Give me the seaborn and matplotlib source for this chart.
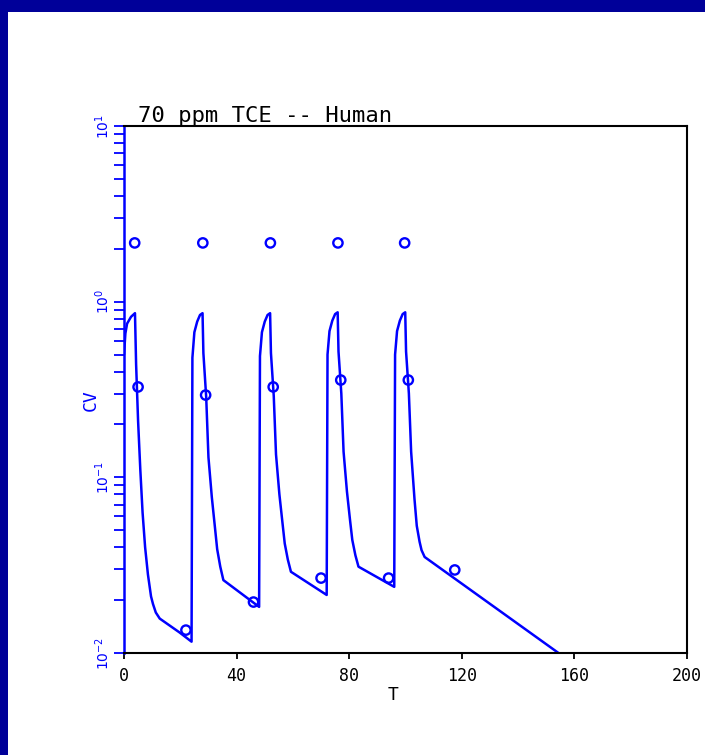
import matplotlib
matplotlib.use("Agg")
import matplotlib.pyplot as plt
import matplotlib.ticker as mticker
from matplotlib.patches import Rectangle
import seaborn as sns
import pandas as pd

# ---- data ----
model_t = [0.0, 0.5, 1.1, 2.5, 3.9, 4.3, 5.0, 5.8, 6.6, 7.5, 8.5, 9.6, 10.3, 11.3, 12.7, 19.7, 24.0,
           24.3, 25.0, 26.0, 27.0, 27.9, 28.2, 29.2, 30.0, 31.2, 32.3, 33.1, 34.2, 35.3, 48.0,
           48.3, 49.0, 50.0, 51.0, 51.9, 52.2, 53.2, 54.0, 55.2, 56.3, 57.1, 58.2, 59.3, 72.0,
           72.3, 73.0, 74.0, 75.0, 75.9, 76.2, 77.2, 78.0, 79.2, 80.3, 81.1, 82.2, 83.3, 96.0,
           96.3, 97.0, 98.0, 99.0, 99.9, 100.2, 101.2, 102.0, 103.2, 104.0, 105.0, 105.7, 106.8, 155.5]
model_cv = [0.50, 0.66, 0.75, 0.82, 0.86, 0.44, 0.21, 0.11, 0.063, 0.040, 0.028, 0.021, 0.019, 0.017, 0.0157, 0.0131, 0.0116,
            0.48, 0.67, 0.77, 0.84, 0.86, 0.51, 0.286, 0.13, 0.077, 0.052, 0.039, 0.031, 0.026, 0.0183,
            0.49, 0.67, 0.77, 0.84, 0.86, 0.51, 0.29, 0.135, 0.080, 0.055, 0.042, 0.034, 0.029, 0.0214,
            0.50, 0.68, 0.78, 0.85, 0.87, 0.52, 0.30, 0.14, 0.083, 0.057, 0.044, 0.036, 0.031, 0.0238,
            0.50, 0.68, 0.78, 0.85, 0.87, 0.52, 0.30, 0.14, 0.075, 0.053, 0.043, 0.0385, 0.0352, 0.0097]

obs_t = [3.8, 28.0, 52.0, 76.0, 99.7,
         5.0, 29.0, 53.0, 77.0, 101.0,
         22.0, 46.0, 70.0, 94.0, 117.5]
obs_cv = [2.16, 2.16, 2.16, 2.16, 2.16,
          0.327, 0.294, 0.327, 0.358, 0.358,
          0.0135, 0.0195, 0.0267, 0.0267, 0.0297]

x_ticks = [0, 40, 80, 120, 160, 200]
x_ticklabels = ["0", "40", "80", "120", "160", "200"]
y_ticks = [0.01, 0.1, 1, 10]
y_ticklabels = [r"$10^{-2}$", r"$10^{-1}$", r"$10^{0}$", r"$10^{1}$"]
title = "70 ppm TCE -- Human"

# ---- plot ----
sns.set_style("white")
plt.rcParams["font.family"] = ["DejaVu Sans Mono", "DejaVu Sans"]
plt.rcParams["mathtext.fontset"] = "dejavusans"

fig = plt.figure(figsize=(7.05, 7.55), dpi=100)
fig.patch.set_facecolor("white")
ax = fig.add_axes([124 / 705, 102 / 755, 563 / 705, 527 / 755])

model_df = pd.DataFrame({"T": model_t, "CV": model_cv})
obs_df = pd.DataFrame({"T": obs_t, "CV": obs_cv})

sns.lineplot(data=model_df, x="T", y="CV", ax=ax, color="#0000ff", lw=1.8,
             estimator=None, sort=False)
sns.scatterplot(data=obs_df, x="T", y="CV", ax=ax, marker="o", s=45,
                facecolor="none", edgecolor="#0000ff", linewidth=1.7, zorder=5)

ax.set_yscale("log")
ax.set_xlim(0, 200)
ax.set_ylim(0.01, 10)

ax.set_xticks(x_ticks)
ax.set_xticklabels(x_ticklabels, fontsize=12, color="black")
ax.set_yticks(y_ticks)
ax.set_yticklabels(y_ticklabels, fontsize=10, color="#0000ff", rotation=90, va="center")
ax.yaxis.set_minor_locator(mticker.LogLocator(base=10, subs=range(2, 10)))
ax.yaxis.set_minor_formatter(mticker.NullFormatter())

ax.tick_params(axis="x", which="major", direction="out", length=4, width=1.3,
               color="black", pad=6, bottom=True)
ax.tick_params(axis="y", which="major", direction="out", length=7, width=1.3,
               color="#0000ff", pad=2, left=True)
ax.tick_params(axis="y", which="minor", direction="out", length=7, width=1.3,
               color="#0000ff", left=True)

for side in ["top", "right", "bottom"]:
    ax.spines[side].set_color("black")
    ax.spines[side].set_linewidth(1.5)
ax.spines["left"].set_color("#0000ff")
ax.spines["left"].set_linewidth(1.8)

ax.set_xlabel("T", fontsize=13, color="black")
ax.xaxis.set_label_coords(0.478, -0.062)
ax.set_ylabel("CV", fontsize=13, color="#0000ff")
ax.yaxis.set_label_coords(-0.043, 0.48)

ax.text(0.025, 1.008, title, transform=ax.transAxes, fontsize=16,
        ha="left", va="baseline", color="black")

# navy frame on top and left edges
fig.patches.append(Rectangle((0, 1 - 12 / 755), 1, 12 / 755, transform=fig.transFigure,
                             facecolor="#000099", edgecolor="none", zorder=10))
fig.patches.append(Rectangle((0, 0), 8 / 705, 1, transform=fig.transFigure,
                             facecolor="#000099", edgecolor="none", zorder=10))

fig.savefig("out.png", dpi=100, facecolor="white")
